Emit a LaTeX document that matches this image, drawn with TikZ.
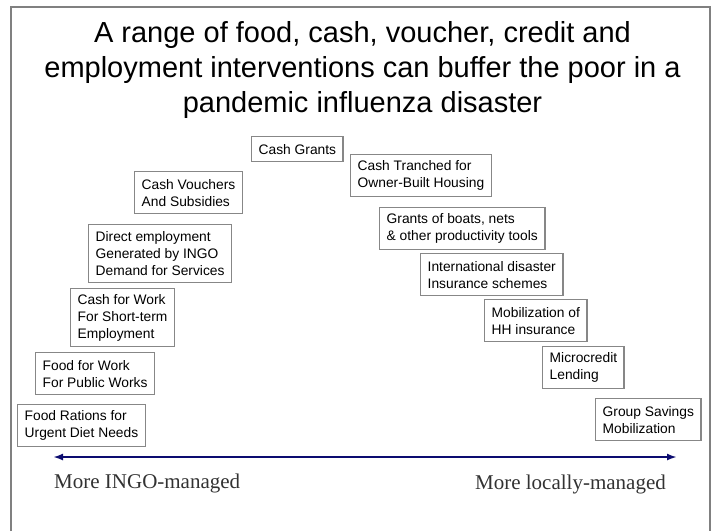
\documentclass[tikz,border=0pt]{standalone}
\usepackage{fontspec}
\setmainfont{Liberation Sans}
\newfontfamily\axisfont{Liberation Serif}
\usetikzlibrary{arrows.meta}
\definecolor{framegray}{RGB}{128,128,128}
\definecolor{boxgray}{RGB}{135,135,135}
\definecolor{axisblue}{RGB}{12,12,112}
\definecolor{axistext}{RGB}{50,50,50}

\begin{document}
\begin{tikzpicture}[x=1pt, y=-1pt,
	box/.style={draw=boxgray, line width=1.4pt, anchor=north west, align=left,
		font=\fontsize{13.8}{17}\selectfont, inner xsep=7pt, inner ysep=0pt},
	box1/.style={box, minimum height=25pt},
	box2/.style={box, minimum height=42pt},
	box3/.style={box, minimum height=58pt},
	axislabel/.style={font=\axisfont\fontsize{21}{25}\selectfont, text=axistext, inner sep=0pt}]
	\useasboundingbox (0,0) rectangle (715,531);
	\draw[framegray, line width=1.3pt] (11,531) -- (11,7) -- (710,7) -- (710,531);

	\node (title) [anchor=base, align=center, font=\fontsize{29}{35}\selectfont, inner sep=0pt]
		at (362.5,112) {A range of food, cash, voucher, credit and\\
		employment interventions can buffer the poor in a\\
		pandemic influenza disaster};

	\node (grants) [box1] at (251,136) {Cash Grants};
	\node (vouchers) [box2] at (134,171) {Cash Vouchers\\And Subsidies};
	\node (direct) [box3] at (88,224) {Direct employment\\Generated by INGO\\Demand for Services};
	\node (cashwork) [box3] at (70,288) {Cash for Work\\For Short-term\\Employment};
	\node (foodwork) [box2] at (35,352) {Food for Work\\For Public Works};
	\node (rations) [box2] at (17,404) {Food Rations for\\Urgent Diet Needs};

	\node (tranche) [box2] at (350,154) {Cash Tranched for\\Owner-Built Housing};
	\node (boats) [box2] at (379,207) {Grants of boats, nets\\\& other productivity tools};
	\node (intins) [box2] at (420,253) {International disaster\\Insurance schemes};
	\node (hhins) [box2] at (484,299) {Mobilization of\\HH insurance};
	\node (micro) [box2] at (542,346) {Microcredit\\Lending};
	\node (savings) [box2] at (595,398) {Group Savings\\Mobilization};

	\coordinate (ingo) at (53,457);
	\coordinate (local) at (677,457);
	\draw[axisblue, line width=2pt, {Latex[length=10pt,width=7pt]}-{Latex[length=10pt,width=7pt]}] (ingo) -- (local);

	\node (ingotext) [axislabel, anchor=base west] at (54,488) {More INGO-managed};
	\node (localtext) [axislabel, anchor=base east] at (666,489) {More locally-managed};
\end{tikzpicture}
\end{document}
